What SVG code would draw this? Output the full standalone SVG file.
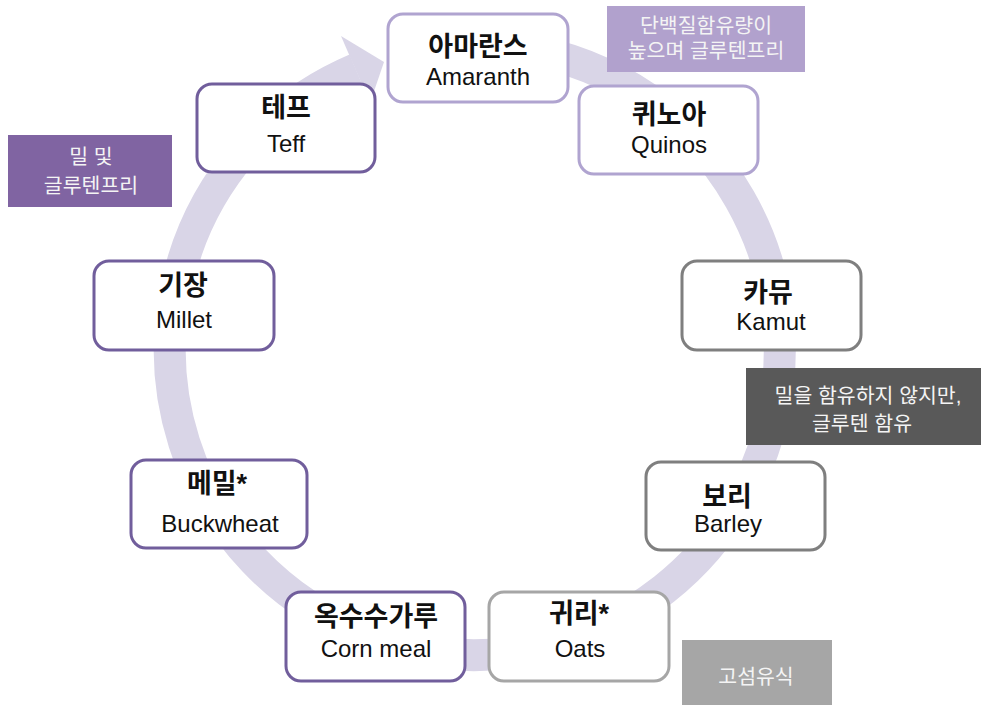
<svg xmlns="http://www.w3.org/2000/svg" width="981" height="705" viewBox="0 0 981 705">
<style>
.box{fill:#ffffff;stroke-width:3}
.lav{stroke:#b0a4d0}
.pur{stroke:#715e9c}
.gry{stroke:#7f7f7f}
.lgry{stroke:#a6a6a6}
.ko{font-family:"Liberation Sans","Noto Sans CJK KR",sans-serif;font-size:27px;font-weight:700;fill:#111;text-anchor:middle}
.en{font-family:"Liberation Sans","Noto Sans CJK KR",sans-serif;font-size:24px;fill:#111;text-anchor:middle}
.lbl{font-family:"Liberation Sans","Noto Sans CJK KR",sans-serif;font-size:20.5px;fill:#f4f4f4;text-anchor:middle}
</style>
<rect width="981" height="705" fill="#ffffff"/>
<g id="connectors">
<path d="M 501.6 46.2 A 305 305 0 1 1 355.8 69.2" fill="none" stroke="#d9d5e7" stroke-width="32"/>
<polygon points="341,36 384,62 370,103" fill="#d9d5e7"/>
</g>
<g id="label-protein">
<rect x="607" y="6" width="198" height="66" fill="#b1a1cd"/>
<text class="lbl" x="706" y="33">단백질함유량이</text>
<text class="lbl" x="706" y="58">높으며 글루텐프리</text>
</g>
<g id="label-wheat-free">
<rect x="8" y="135" width="164" height="72" fill="#8064a2"/>
<text class="lbl" x="91" y="164">밀 및</text>
<text class="lbl" x="91" y="193">글루텐프리</text>
</g>
<g id="label-gluten">
<rect x="746" y="368" width="235" height="77" fill="#595959"/>
<text class="lbl" x="868" y="403">밀을 함유하지 않지만,</text>
<text class="lbl" x="862" y="431">글루텐 함유</text>
</g>
<g id="label-fiber">
<rect x="682" y="640" width="150" height="65" fill="#a6a6a6"/>
<text class="lbl" x="756" y="684">고섬유식</text>
</g>
<g id="node-amaranth">
<rect class="box lav" x="388" y="14" width="180" height="88" rx="15"/>
<text class="ko" x="478" y="56">아마란스</text>
<text class="en" x="478" y="85">Amaranth</text>
</g>
<g id="node-quinos">
<rect class="box lav" x="579" y="86" width="179" height="88" rx="15"/>
<text class="ko" x="669" y="124">퀴노아</text>
<text class="en" x="669" y="153">Quinos</text>
</g>
<g id="node-kamut">
<rect class="box gry" x="682" y="261" width="179" height="89" rx="15"/>
<text class="ko" x="768" y="302">카뮤</text>
<text class="en" x="771" y="330">Kamut</text>
</g>
<g id="node-barley">
<rect class="box gry" x="646" y="462" width="179" height="88" rx="15"/>
<text class="ko" x="727" y="506">보리</text>
<text class="en" x="728" y="532">Barley</text>
</g>
<g id="node-oats">
<rect class="box lgry" x="489" y="592" width="180" height="89" rx="15"/>
<text class="ko" x="579" y="623">귀리*</text>
<text class="en" x="580" y="657">Oats</text>
</g>
<g id="node-cornmeal">
<rect class="box pur" x="286" y="592" width="179" height="89" rx="15"/>
<text class="ko" x="376" y="626">옥수수가루</text>
<text class="en" x="376" y="657">Corn meal</text>
</g>
<g id="node-buckwheat">
<rect class="box pur" x="131" y="460" width="176" height="88" rx="15"/>
<text class="ko" x="217" y="493">메밀*</text>
<text class="en" x="220" y="532">Buckwheat</text>
</g>
<g id="node-millet">
<rect class="box pur" x="94" y="261" width="180" height="89" rx="15"/>
<text class="ko" x="183" y="295">기장</text>
<text class="en" x="184" y="328">Millet</text>
</g>
<g id="node-teff">
<rect class="box pur" x="197" y="84" width="178" height="88" rx="15"/>
<text class="ko" x="286" y="117">테프</text>
<text class="en" x="286" y="152">Teff</text>
</g>
</svg>
